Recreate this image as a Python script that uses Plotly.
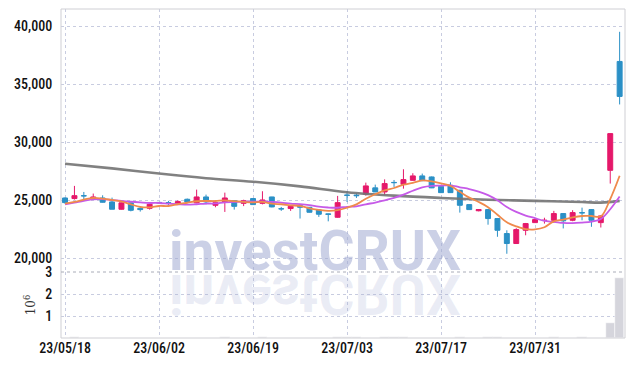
import plotly.graph_objects as go
from plotly.subplots import make_subplots

dates = ["23/05/18","23/05/19","23/05/22","23/05/23","23/05/24","23/05/25","23/05/26","23/05/30","23/05/31","23/06/01",
         "23/06/02","23/06/05","23/06/07","23/06/08","23/06/09","23/06/12","23/06/13","23/06/14","23/06/15","23/06/16",
         "23/06/19","23/06/20","23/06/21","23/06/22","23/06/23","23/06/26","23/06/27","23/06/28","23/06/29","23/06/30",
         "23/07/03","23/07/04","23/07/05","23/07/06","23/07/07","23/07/10","23/07/11","23/07/12","23/07/13","23/07/14",
         "23/07/17","23/07/18","23/07/19","23/07/20","23/07/21","23/07/24","23/07/25","23/07/26","23/07/27","23/07/28",
         "23/07/31","23/08/01","23/08/02","23/08/03","23/08/04","23/08/07","23/08/08","23/08/09","23/08/10","23/08/11"]

opens = [25200,25150,25400,25120,25200,24860,24230,24780,24310,24310,
         24820,24800,24720,25090,24780,25290,24570,24830,24970,24740,
         25150,24740,25290,24280,24290,24540,24400,24170,23830,23540,
         25450,25450,25520,26070,25720,26540,26380,26720,27100,27010,
         26200,26290,25860,24630,24100,24200,23430,22140,21280,22420,
         23080,23260,23280,23860,23280,23940,24200,23080,27580,36950]
highs = [25250,26240,25720,25580,25430,25230,24800,24800,24480,24700,
         24850,24950,25000,25150,25920,25490,24830,25660,25000,25050,
         25200,25780,25300,24430,24520,24580,24420,24200,23860,25380,
         25780,25600,26520,26350,26800,26750,27670,27330,27300,27050,
         26300,26550,25900,24650,24250,24230,23450,22420,22600,23050,
         23450,23500,24090,23900,24150,24370,24250,23700,30740,39500]
lows = [24700,25060,25060,25100,24800,24230,24200,24050,24030,24200,
        24750,24580,24700,24800,24750,24650,24400,24000,24200,24500,
        24600,24650,24400,24090,24090,23430,23950,23570,23190,23500,
        24860,25200,25400,25700,25450,26150,26000,26700,26650,26050,
        25650,25640,23940,24180,24050,22900,21860,20400,21250,21990,
        23050,23000,23050,22580,23200,23280,22720,22660,26440,33250]
closes = [24800,25400,25380,25290,24830,24230,24780,24140,24200,24660,
          24780,24780,24890,24860,25290,24860,24800,25200,24480,24970,
          24630,25030,24430,24260,24480,24400,23970,23800,23800,24800,
          25430,25400,26240,25720,26440,26520,26780,27100,26690,26070,
          25660,25660,24570,24200,24200,23430,22420,21280,22480,23000,
          23340,23280,23860,23230,23940,23920,23280,23660,30740,33940]

# volume in millions of shares
volumes = [0.02,0.06,0.02,0.02,0.02,0.02,0.02,0.02,0.02,0.02,
           0.02,0.02,0.02,0.02,0.02,0.02,0.02,0.06,0.02,0.02,
           0.02,0.06,0.02,0.02,0.02,0.02,0.02,0.02,0.02,0.06,
           0.06,0.03,0.02,0.02,0.06,0.06,0.05,0.02,0.02,0.02,
           0.02,0.02,0.06,0.02,0.02,0.06,0.06,0.02,0.02,0.02,
           0.02,0.02,0.06,0.02,0.02,0.06,0.02,0.02,0.67,2.73]

ma5 = [24720,24860,25060,25200,25140,25030,24900,24650,24440,24400,
       24510,24510,24660,24790,24920,24940,24940,25000,24930,24860,
       24820,24860,24710,24660,24570,24520,24310,24180,24090,24150,
       24360,24650,25130,25520,25850,26060,26340,26510,26710,26630,
       26460,26240,25730,25230,24860,24410,23760,23110,22760,22520,
       22500,22680,23190,23340,23530,23650,23650,23610,25110,27110]
ma10 = [24660,24800,24950,25080,25100,25020,24950,24880,24820,24770,
        24770,24710,24660,24620,24660,24720,24730,24830,24860,24890,
        24880,24900,24860,24800,24710,24670,24590,24450,24380,24360,
        24440,24480,24660,24800,25000,25210,25490,25820,26110,26240,
        26260,26290,26120,25970,25750,25440,25000,24420,24000,23690,
        23460,23220,23150,23050,23030,23080,23160,23400,24230,25320]
ma_long_idx = [0, 5, 10, 15, 20, 25, 30, 35, 40, 45, 50, 55, 57, 59]
ma_long = [28150,27750,27300,26900,26600,26200,25700,25400,25200,25050,24950,24850,24800,24950]

tick_idx = [0, 10, 20, 30, 40, 50]

RED = "#e5186a"
BLUE = "#2b90c6"
FONT = "Roboto Condensed, Liberation Sans Narrow, DejaVu Sans Condensed, sans-serif"
TICKFONT = dict(family=FONT, size=14, color="#111", weight=500)

fig = make_subplots(rows=2, cols=1, shared_xaxes=True, vertical_spacing=0,
                    row_heights=[0.7994, 0.2006])

fig.add_trace(go.Candlestick(
    x=dates, open=opens, high=highs, low=lows, close=closes,
    increasing=dict(line=dict(color=RED, width=1), fillcolor=RED),
    decreasing=dict(line=dict(color=BLUE, width=1), fillcolor=BLUE),
    whiskerwidth=0, showlegend=False, hoverinfo="x+y"), row=1, col=1)

fig.add_trace(go.Scatter(x=[dates[i] for i in ma_long_idx], y=ma_long, mode="lines",
                         line=dict(color="rgba(115,115,115,0.9)", width=2.6, shape="spline"),
                         showlegend=False), row=1, col=1)
fig.add_trace(go.Scatter(x=dates, y=ma10, mode="lines",
                         line=dict(color="#c65ae8", width=1.8, shape="spline"),
                         showlegend=False), row=1, col=1)
fig.add_trace(go.Scatter(x=dates, y=ma5, mode="lines",
                         line=dict(color="#ef8a4c", width=1.8, shape="spline"),
                         showlegend=False), row=1, col=1)

fig.add_trace(go.Bar(x=dates, y=volumes, marker=dict(color="#d5d5dc", line=dict(color="white", width=0.5)),
                     showlegend=False), row=2, col=1)

grid = "#c8cce0"
common_x = dict(type="category", range=[-0.43, 59.57], showgrid=True, gridcolor=grid, griddash="dot",
                gridwidth=1, tickmode="array", tickvals=[dates[i] for i in tick_idx],
                zeroline=False, showline=False, fixedrange=True, automargin=False)
fig.update_xaxes(**common_x)
fig.update_xaxes(showticklabels=False, rangeslider=dict(visible=False), row=1, col=1)
fig.update_xaxes(showticklabels=True, ticks="", tickangle=0, tickfont=TICKFONT, row=2, col=1)

fig.update_yaxes(range=[18830, 41463], tickvals=[20000, 25000, 30000, 35000, 40000], tickformat=",d",
                 showgrid=True, gridcolor=grid, griddash="dot", zeroline=False, automargin=False,
                 ticks="outside", ticklen=5, tickcolor="rgba(0,0,0,0)", fixedrange=True,
                 tickfont=TICKFONT, row=1, col=1)
fig.update_yaxes(range=[0, 3], tickvals=[1, 2, 3], showgrid=True, gridcolor=grid, griddash="dot",
                 zeroline=False, automargin=False, ticks="outside", ticklen=5, tickcolor="rgba(0,0,0,0)",
                 tickfont=TICKFONT, fixedrange=True,
                 title=dict(text="10<sup>6</sup>", font=dict(family="DejaVu Serif", size=12, color="#333"),
                            standoff=6), row=2, col=1)

# frame and panel separator
fig.add_shape(type="rect", xref="paper", yref="paper", x0=0, x1=1, y0=0, y1=1,
              line=dict(color="#cfcfd4", width=1), layer="above")
fig.add_shape(type="line", xref="paper", yref="paper", x0=0, x1=1, y0=0.2006, y1=0.2006,
              line=dict(color="#a9acb8", width=1, dash="dot"), layer="above")

# watermark and its reflection
fig.add_annotation(text="investCRUX", xref="paper", yref="paper", x=0.4504, y=0.16,
                   xanchor="center", yanchor="bottom", showarrow=False,
                   font=dict(family="Roboto", size=55, color="rgba(160,170,210,0.55)", weight="bold"))
fig.add_annotation(text="investCRUX", xref="paper", yref="paper", x=0.4504, y=0.03,
                   xanchor="center", yanchor="bottom", showarrow=False,
                   font=dict(family="Roboto", size=55, color="rgba(160,170,210,0.22)", weight="bold"))

fig.update_layout(width=634, height=366, margin=dict(l=61, r=9, t=9, b=28, autoexpand=False),
                  plot_bgcolor="white", paper_bgcolor="white", bargap=0, boxgap=0.25,
                  showlegend=False, hovermode=False, dragmode=False)

post = """
document.body.style.margin = '0';
document.body.style.padding = '0';
var gd = document.getElementById('{plot_id}');
function flipRefl(){
  var g = gd.querySelector('g.annotation[data-index="1"] text.annotation-text');
  if (g) {
    g.style.transformBox = 'fill-box';
    g.style.transformOrigin = 'center';
    g.style.transform = 'scaleY(-1)';
  }
}
flipRefl();
if (gd.on) { gd.on('plotly_afterplot', flipRefl); }
"""

fig.write_html("out.html", post_script=post, config={"displayModeBar": False})
